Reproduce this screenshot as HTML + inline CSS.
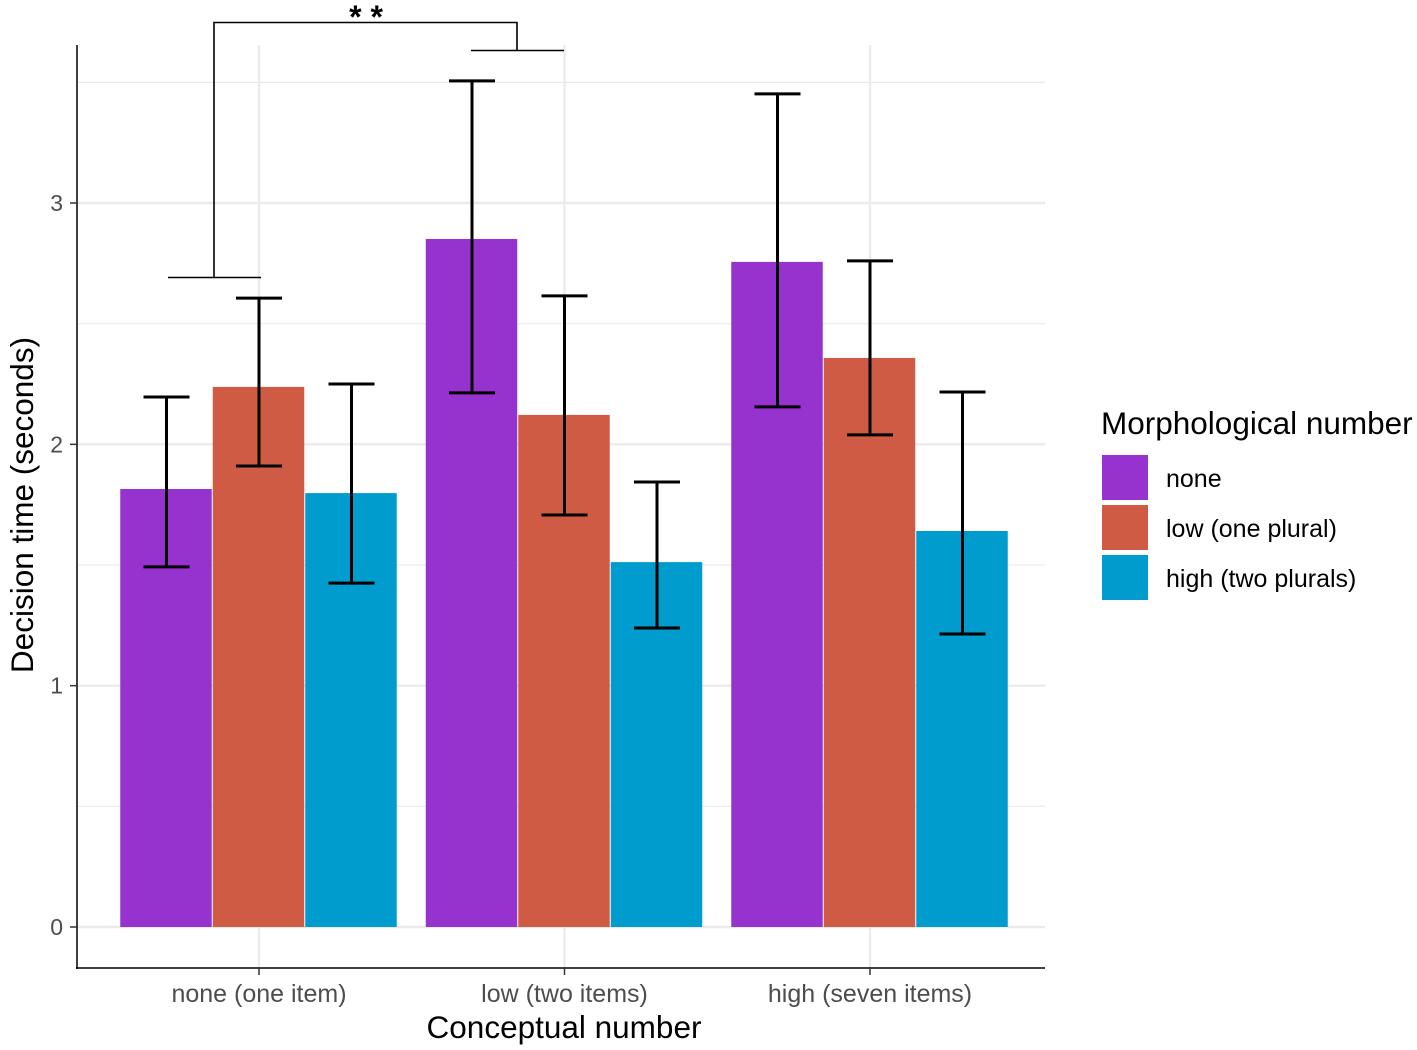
<!DOCTYPE html>
<html><head><meta charset="utf-8">
<style>
html,body{margin:0;padding:0;background:#fff;}
svg{display:block;font-family:"Liberation Sans",sans-serif;}
</style></head>
<body>
<svg id="chart" width="1417" height="1050">
  <g id="grid"></g>
  <g id="bars"></g>
  <g id="errs"></g>
  <g id="axes"></g>
  <g id="sig"></g>
  <text x="564" y="1038" font-size="31.5" text-anchor="middle" fill="#000">Conceptual number</text>
  <text transform="translate(33,505) rotate(-90)" font-size="31.5" text-anchor="middle" fill="#000">Decision time (seconds)</text>
  <g id="legend">
    <text x="1101" y="434" font-size="31.5" fill="#000">Morphological number</text>
  </g>
</svg>
<script>
const categories = ["none (one item)", "low (two items)", "high (seven items)"];
const seriesNames = ["none", "low (one plural)", "high (two plurals)"];
const seriesColors = ["#9632cd", "#cf5b45", "#009ccd"];
const meanNone = [1.815, 2.851, 2.756];
const meanLow = [2.238, 2.122, 2.358];
const meanHigh = [1.798, 1.512, 1.641];
const upperNone = [2.196, 3.506, 3.452];
const upperLow = [2.606, 2.615, 2.760];
const upperHigh = [2.250, 1.844, 2.217];
const lowerNone = [1.492, 2.213, 2.155];
const lowerLow = [1.910, 1.707, 2.039];
const lowerHigh = [1.425, 1.239, 1.214];
const yTicks = [0, 1, 2, 3];
const yMinor = [0.5, 1.5, 2.5, 3.5];

const means = [meanNone, meanLow, meanHigh];
const uppers = [upperNone, upperLow, upperHigh];
const lowers = [lowerNone, lowerLow, lowerHigh];
const NS = "http://www.w3.org/2000/svg";
const L = 77, R = 1045, T = 45, B = 968;
const y = v => 927 - v * 241.33;
const xc = i => 259 + i * 305.5;
const bw = 92.5;
function mk(tag, attrs, parent) {
  const e = document.createElementNS(NS, tag);
  for (const k in attrs) e.setAttribute(k, attrs[k]);
  parent.appendChild(e); return e;
}
const grid = document.getElementById('grid');
yMinor.forEach(v => {
  const l = mk('line', {x1: L, x2: R, y1: y(v), y2: y(v), stroke: '#ebebeb', 'stroke-width': 1.2}, grid);
  
  
});
yTicks.forEach(v => {
  const l = mk('line', {x1: L, x2: R, y1: y(v), y2: y(v), stroke: '#ebebeb', 'stroke-width': 2.4}, grid);
  
  
});
categories.forEach((c, i) => {
  const l = mk('line', {x1: xc(i), x2: xc(i), y1: T, y2: B, stroke: '#ebebeb', 'stroke-width': 2.4}, grid);
  
  
});
const bars = document.getElementById('bars'), errs = document.getElementById('errs');
categories.forEach((c, i) => {
  for (let s = 0; s < 3; s++) {
    const cx = xc(i) + (s - 1) * bw;
    const r = mk('rect', {x: cx - bw / 2, y: y(means[s][i]), width: bw - 1, height: y(0) - y(means[s][i]), fill: seriesColors[s]}, bars);
    
    
    const yu = y(uppers[s][i]), yl = y(lowers[s][i]);
    const p = mk('path', {d: `M${cx - 23},${yu}H${cx + 23}M${cx},${yu}V${yl}M${cx - 23},${yl}H${cx + 23}`, stroke: '#000', 'stroke-width': 3, fill: 'none'}, errs);
    
    
  }
});
const axes = document.getElementById('axes');
mk('line', {x1: L, x2: L, y1: T, y2: B + 1, stroke: '#000', 'stroke-width': 1.5}, axes);
mk('line', {x1: L - 1, x2: R, y1: B, y2: B, stroke: '#000', 'stroke-width': 1.5}, axes);
yTicks.forEach(v => {
  mk('line', {x1: L - 7, x2: L, y1: y(v), y2: y(v), stroke: '#333', 'stroke-width': 1.5}, axes);
  const t = mk('text', {x: L - 14, y: y(v) + 8, 'font-size': 23, 'text-anchor': 'end', fill: '#4d4d4d'}, axes);
  t.textContent = v;
  
  
});
categories.forEach((c, i) => {
  mk('line', {x1: xc(i), x2: xc(i), y1: B, y2: B + 7, stroke: '#333', 'stroke-width': 1.5}, axes);
  const t = mk('text', {x: xc(i), y: 1002, 'font-size': 25, 'text-anchor': 'middle', fill: '#4d4d4d'}, axes);
  t.textContent = c;
  
  
});
const sig = document.getElementById('sig');
mk('path', {d: 'M168,277.5H261M214,277.5V22.5H517V50.5M471,50.5H564', stroke: '#000', 'stroke-width': 1.6, fill: 'none'}, sig);
const st = mk('text', {x: 366, y: 28, 'font-size': 32, 'font-weight': 'bold', 'text-anchor': 'middle', fill: '#000'}, sig);
st.textContent = '* *';


const leg = document.getElementById('legend');
seriesNames.forEach((n, s) => {
  const r = mk('rect', {x: 1102, y: 455 + s * 50, width: 46, height: 45, fill: seriesColors[s]}, leg);
  
  
  const t = mk('text', {x: 1166, y: 487 + s * 50, 'font-size': 25, fill: '#000'}, leg);
  t.textContent = n;
  
  
});
</script>
</body></html>
